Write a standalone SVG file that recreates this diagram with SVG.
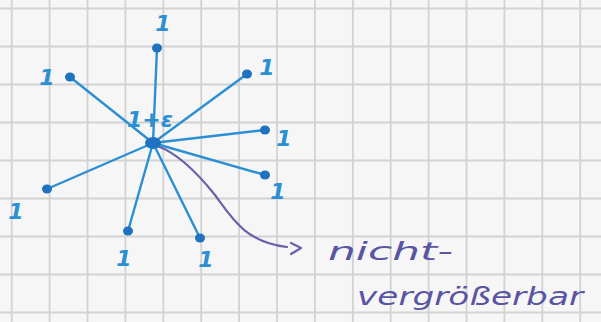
<svg xmlns="http://www.w3.org/2000/svg" width="601" height="322" viewBox="0 0 601 322">
<style>
.grid{stroke:#d2d2d2;stroke-width:1.8;fill:none}
.edge{stroke:#2b8fd4;stroke-width:2.4;fill:none;stroke-linecap:round}
.dot{fill:#1f72bf}
.lbl{font-family:"DejaVu Sans",sans-serif;font-style:italic;font-weight:bold;font-size:22px;fill:#2b8fd4;text-anchor:middle}
.note{font-family:"DejaVu Sans",sans-serif;font-style:italic;font-size:24px;fill:#5a55a3}
.purple{stroke:#6a60aa;stroke-width:2.2;fill:none;stroke-linecap:round;stroke-linejoin:round}
</style>
<rect width="601" height="322" fill="#f6f6f6"/>
<g id="grid" class="grid">
<path d="M11.7,0V322M49.6,0V322M87.5,0V322M125.4,0V322M163.3,0V322M201.2,0V322M239.1,0V322M277,0V322M314.9,0V322M352.8,0V322M390.7,0V322M428.6,0V322M466.5,0V322M504.4,0V322M542.3,0V322M580.2,0V322"/>
<path d="M0,8.5H601M0,46.5H601M0,84.5H601M0,122.5H601M0,160.5H601M0,198.5H601M0,236.5H601M0,274.5H601M0,312.5H601"/>
</g>
<g id="connectors">
<path class="edge" d="M153,143L157,48"/>
<path class="edge" d="M153,143L70,77"/>
<path class="edge" d="M153,143L247,74"/>
<path class="edge" d="M153,143L265,130"/>
<path class="edge" d="M153,143L265,175"/>
<path class="edge" d="M153,143L200,238"/>
<path class="edge" d="M153,143L128,231"/>
<path class="edge" d="M153,143L47,189"/>
<path class="purple" d="M157,146C175,152 195,170 215,195C232,218 245,242 287,247"/>
<path class="purple" d="M291,243L301,248L291,254"/>
</g>
<g id="center"><ellipse class="dot" cx="153" cy="143" rx="8" ry="6"/><text class="lbl" x="150" y="127">1+ε</text></g>
<g id="n-top"><ellipse class="dot" cx="157" cy="48" rx="5" ry="4.5"/><text class="lbl" x="163" y="31">1</text></g>
<g id="n-upleft"><ellipse class="dot" cx="70" cy="77" rx="5" ry="4.5"/><text class="lbl" x="47" y="85">1</text></g>
<g id="n-upright"><ellipse class="dot" cx="247" cy="74" rx="5" ry="4.5"/><text class="lbl" x="267" y="75">1</text></g>
<g id="n-right"><ellipse class="dot" cx="265" cy="130" rx="5" ry="4.5"/><text class="lbl" x="284" y="146">1</text></g>
<g id="n-rightlow"><ellipse class="dot" cx="265" cy="175" rx="5" ry="4.5"/><text class="lbl" x="278" y="199">1</text></g>
<g id="n-botright"><ellipse class="dot" cx="200" cy="238" rx="5" ry="4.5"/><text class="lbl" x="206" y="267">1</text></g>
<g id="n-bot"><ellipse class="dot" cx="128" cy="231" rx="5" ry="4.5"/><text class="lbl" x="124" y="266">1</text></g>
<g id="n-leftlow"><ellipse class="dot" cx="47" cy="189" rx="5" ry="4.5"/><text class="lbl" x="16" y="219">1</text></g>
<g id="note">
<text class="note" x="328" y="260" textLength="125" lengthAdjust="spacingAndGlyphs">nicht-</text>
<text class="note" x="357" y="305" textLength="226" lengthAdjust="spacingAndGlyphs">vergrößerbar</text>
</g>
</svg>
